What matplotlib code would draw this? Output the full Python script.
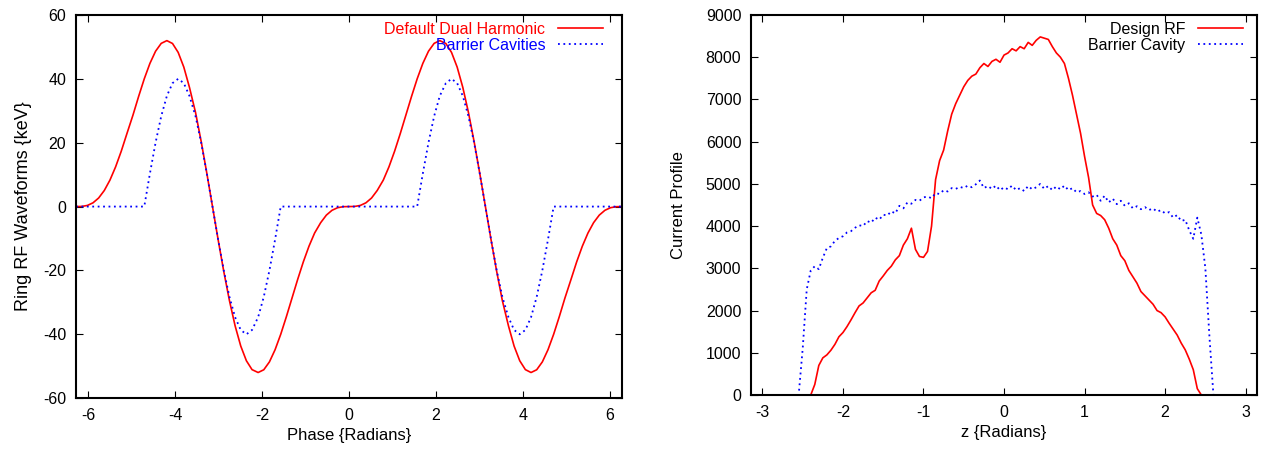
import matplotlib
matplotlib.use('Agg')
import matplotlib.pyplot as plt
import numpy as np

plt.rcParams['font.family'] = ['Liberation Sans', 'DejaVu Sans']
plt.rcParams['font.size'] = 11.5
plt.rcParams['axes.unicode_minus'] = False

# left panel: RF waveforms vs phase (7.5 degree steps from -2pi to 2pi)
phase = [-6.28, -6.15, -6.02, -5.89, -5.76, -5.63, -5.50, -5.37, -5.24, -5.11,
         -4.97, -4.84, -4.71, -4.58, -4.45, -4.32, -4.19, -4.06, -3.93, -3.80,
         -3.67, -3.53, -3.40, -3.27, -3.14, -3.01, -2.88, -2.75, -2.62, -2.49,
         -2.36, -2.23, -2.09, -1.96, -1.83, -1.70, -1.57, -1.44, -1.31, -1.18,
         -1.05, -0.92, -0.79, -0.65, -0.52, -0.39, -0.26, -0.13, 0.00,
         0.13, 0.26, 0.39, 0.52, 0.65, 0.79, 0.92, 1.05, 1.18, 1.31,
         1.44, 1.57, 1.70, 1.83, 1.96, 2.09, 2.23, 2.36, 2.49, 2.62,
         2.75, 2.88, 3.01, 3.14, 3.27, 3.40, 3.53, 3.67, 3.80, 3.93,
         4.06, 4.19, 4.32, 4.45, 4.58, 4.71, 4.84, 4.97, 5.11, 5.24,
         5.37, 5.50, 5.63, 5.76, 5.89, 6.02, 6.15, 6.28]

dual_harm = [0, 0.04, 0.35, 1.17, 2.68, 5.03, 8.28, 12.42, 17.32, 22.81,
             28.64, 34.48, 40, 44.83, 48.64, 51.10, 51.96, 51.06, 48.28, 43.67,
             37.32, 29.45, 20.35, 10.40, 0, -10.40, -20.35, -29.45, -37.32, -43.67,
             -48.28, -51.06, -51.96, -51.10, -48.64, -44.83, -40, -34.48, -28.64, -22.81,
             -17.32, -12.42, -8.28, -5.03, -2.68, -1.17, -0.35, -0.04, 0,
             0.04, 0.35, 1.17, 2.68, 5.03, 8.28, 12.42, 17.32, 22.81,
             28.64, 34.48, 40, 44.83, 48.64, 51.10, 51.96, 51.06, 48.28, 43.67,
             37.32, 29.45, 20.35, 10.40, 0, -10.40, -20.35, -29.45, -37.32, -43.67,
             -48.28, -51.06, -51.96, -51.10, -48.64, -44.83, -40, -34.48, -28.64, -22.81,
             -17.32, -12.42, -8.28, -5.03, -2.68, -1.17, -0.35, -0.04, 0]

barrier = [0, 0, 0, 0, 0, 0, 0, 0, 0, 0,
           0, 0, 0, 10.35, 20, 28.28, 34.64, 38.64, 40, 38.64,
           34.64, 28.28, 20, 10.35, 0, -10.35, -20, -28.28, -34.64, -38.64,
           -40, -38.64, -34.64, -28.28, -20, -10.35, 0, 0, 0, 0,
           0, 0, 0, 0, 0, 0, 0, 0, 0,
           0, 0, 0, 0, 0, 0, 0, 0, 0, 0, 0, 0,
           10.35, 20, 28.28, 34.64, 38.64, 40, 38.64, 34.64, 28.28, 20,
           10.35, 0, -10.35, -20, -28.28, -34.64, -38.64, -40, -38.64, -34.64,
           -28.28, -20, -10.35,
           0, 0, 0, 0, 0, 0, 0, 0, 0, 0, 0, 0, 0]

# right panel: current profiles vs z
z = [-3.10, -3.05, -3.00, -2.95, -2.90, -2.85, -2.80, -2.75, -2.70, -2.65,
     -2.60, -2.55, -2.50, -2.45, -2.40, -2.35, -2.30, -2.25, -2.20, -2.15,
     -2.10, -2.05, -2.00, -1.95, -1.90, -1.85, -1.80, -1.75, -1.70, -1.65,
     -1.60, -1.55, -1.50, -1.45, -1.40, -1.35, -1.30, -1.25, -1.20, -1.15,
     -1.10, -1.05, -1.00, -0.95, -0.90, -0.85, -0.80, -0.75, -0.70, -0.65,
     -0.60, -0.55, -0.50, -0.45, -0.40, -0.35, -0.30, -0.25, -0.20, -0.15,
     -0.10, -0.05, 0.00, 0.05, 0.10, 0.15, 0.20, 0.25, 0.30, 0.35,
     0.40, 0.45, 0.50, 0.55, 0.60, 0.65, 0.70, 0.75, 0.80, 0.85,
     0.90, 0.95, 1.00, 1.05, 1.10, 1.15, 1.20, 1.25, 1.30, 1.35,
     1.40, 1.45, 1.50, 1.55, 1.60, 1.65, 1.70, 1.75, 1.80, 1.85,
     1.90, 1.95, 2.00, 2.05, 2.10, 2.15, 2.20, 2.25, 2.30, 2.35,
     2.40, 2.45, 2.50, 2.55, 2.60, 2.65, 2.70, 2.75, 2.80, 2.85,
     2.90, 2.95, 3.00, 3.05, 3.10]

design_rf = [0, 0, 0, 0, 0, 0, 0, 0, 0, 0,
             0, 0, 0, 0, 0, 250, 700, 880, 950, 1060,
             1200, 1380, 1480, 1620, 1780, 1950, 2110, 2180, 2300, 2420,
             2480, 2700, 2820, 2950, 3050, 3200, 3300, 3550, 3700, 3950,
             3450, 3280, 3260, 3400, 4000, 5100, 5550, 5800, 6250, 6650,
             6900, 7100, 7300, 7450, 7550, 7600, 7750, 7850, 7780, 7900,
             7950, 7880, 8050, 8100, 8200, 8150, 8250, 8200, 8350, 8280,
             8400, 8480, 8450, 8420, 8250, 8100, 8000, 7850, 7500, 7100,
             6650, 6200, 5650, 5150, 4500, 4300, 4250, 4150, 3950, 3700,
             3550, 3300, 3180, 2950, 2800, 2650, 2450, 2350, 2250, 2150,
             2000, 1950, 1850, 1700, 1560, 1420, 1230, 1070, 850, 600,
             150, 0, 0, 0, 0, 0, 0, 0, 0, 0,
             0, 0, 0, 0, 0]

barrier_cav = [0, 0, 0, 0, 0, 0, 0, 0, 0, 0,
               0, 0, 1100, 2500, 2950, 3050, 2980, 3250, 3480, 3520,
               3650, 3720, 3760, 3850, 3880, 3960, 4020, 4000, 4120, 4080,
               4200, 4150, 4270, 4250, 4350, 4300, 4480, 4420, 4560, 4530,
               4620, 4600, 4680, 4700, 4660, 4780, 4760, 4850, 4820, 4900,
               4880, 4930, 4900, 4960, 4920, 4990, 5080, 4900, 4950, 4880,
               4960, 4850, 4920, 4870, 4960, 4850, 4900, 4830, 4950, 4870,
               4920, 5000, 4880, 4950, 4850, 4940, 4870, 4960, 4850, 4900,
               4800, 4830, 4760, 4800, 4700, 4740, 4600, 4720, 4560, 4650,
               4520, 4600, 4480, 4540, 4420, 4470, 4400, 4450, 4380, 4420,
               4340, 4380, 4300, 4330, 4200, 4260, 4120, 4150, 3900, 3700,
               4200, 3800, 3000, 1400, 0, 0, 0, 0, 0, 0,
               0, 0, 0, 0, 0]

fig = plt.figure(figsize=(12.65, 4.53), dpi=100)
ax1 = fig.add_axes([0.060, 0.121, 0.4317, 0.846])
ax2 = fig.add_axes([0.5937, 0.128, 0.400, 0.839])

dots = (0, (1, 2))

ax1.plot(phase, dual_harm, color='#ff0000', lw=1.2, label='Default Dual Harmonic')
ax1.plot(phase, barrier, color='#0000ff', lw=1.3, ls=dots, label='Barrier Cavities')
ax1.set_xlim(-2 * np.pi, 2 * np.pi)
ax1.set_ylim(-60, 60)
ax1.set_xticks([-6, -4, -2, 0, 2, 4, 6])
ax1.set_yticks([-60, -40, -20, 0, 20, 40, 60])
ax1.set_xlabel('Phase {Radians}', fontsize=12)
ax1.set_ylabel('Ring RF Waveforms {keV}', fontsize=13, labelpad=8)
ax1.legend(loc='upper right', bbox_to_anchor=(0.965, 0.982), markerfirst=False,
           frameon=False, labelcolor='linecolor', handlelength=2.8,
           handletextpad=0.8, labelspacing=0.05, borderaxespad=0, borderpad=0,
           fontsize=11.5)

ax2.plot(z, design_rf, color='#ff0000', lw=1.2, label='Design RF')
ax2.plot(z, barrier_cav, color='#0000ff', lw=1.3, ls=dots, label='Barrier Cavity')
ax2.set_xlim(-np.pi, np.pi)
ax2.set_ylim(0, 9000)
ax2.set_xticks([-3, -2, -1, 0, 1, 2, 3])
ax2.set_yticks(range(0, 9001, 1000))
ax2.set_xlabel('z {Radians}', fontsize=12)
ax2.set_ylabel('Current Profile', fontsize=12, labelpad=14)
ax2.legend(loc='upper right', bbox_to_anchor=(0.972, 0.982), markerfirst=False,
           frameon=False, handlelength=2.8, handletextpad=0.8,
           labelspacing=0.05, borderaxespad=0, borderpad=0, fontsize=11.5)

for ax in (ax1, ax2):
    for s in ax.spines.values():
        s.set_linewidth(1.5)
    ax.tick_params(direction='in', top=True, right=True, length=5, width=0.8,
                   labelsize=11.5, pad=7)

plt.savefig('out.png', dpi=100)
